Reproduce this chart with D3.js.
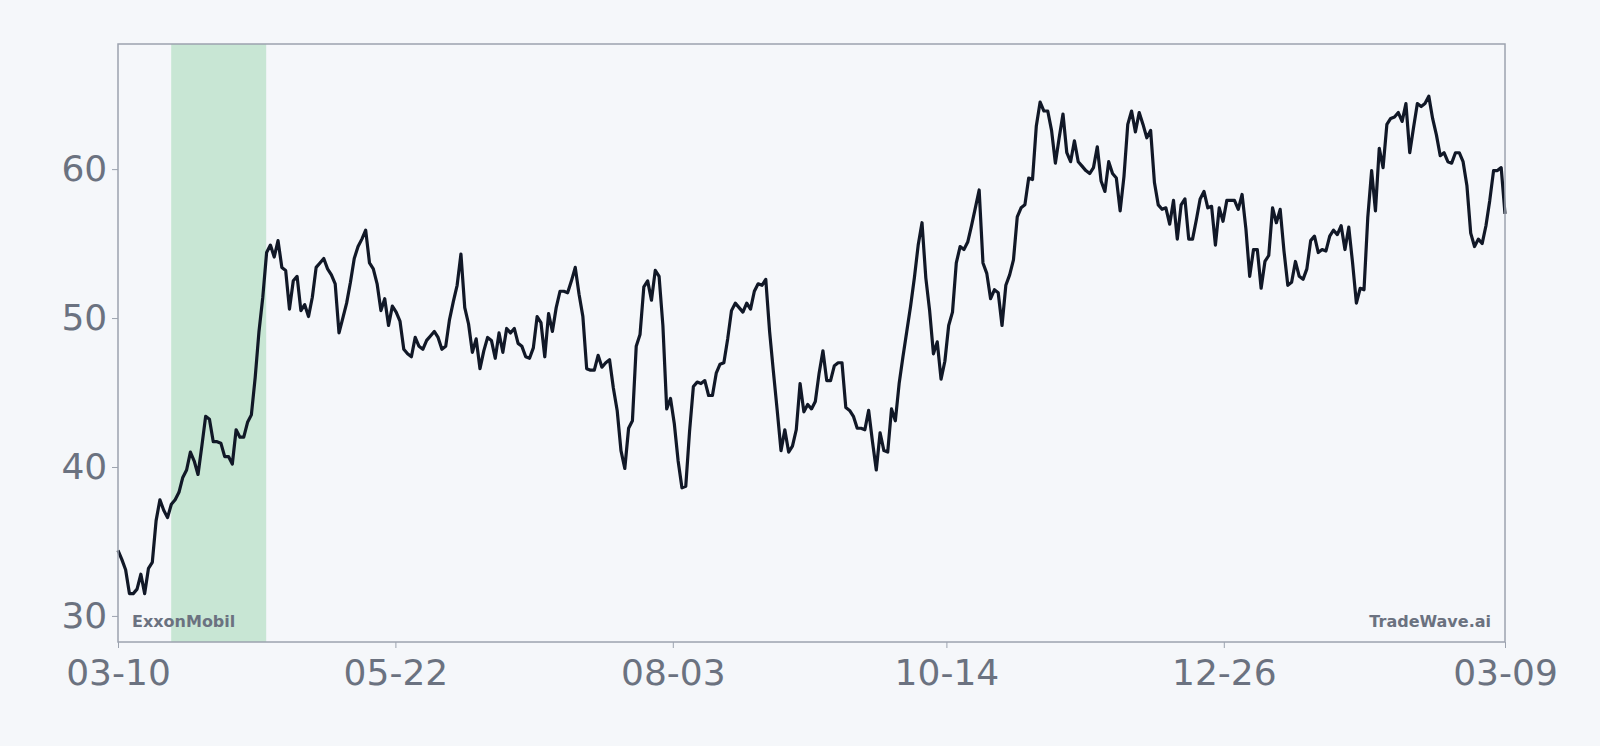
<!DOCTYPE html>
<html>
<head>
<meta charset="utf-8">
<script src="https://cdn.jsdelivr.net/npm/d3@7"></script>
<style>
  body { margin: 0; background: #f5f7fa; }
  svg { display: block; }
  svg text { font-family: "DejaVu Sans", sans-serif; }
</style>
</head>
<body>
<svg id="chart" width="1600" height="746"></svg>
<script>
// Closing prices, evenly sampled across the year
var prices = [34.4,33.8,33.1,31.5,31.5,31.8,32.8,31.5,33.2,33.6,36.4,37.8,37.1,36.6,37.5,37.8,38.3,39.3,39.8,41.0,
  40.4,39.5,41.4,43.4,43.2,41.7,41.7,41.6,40.7,40.7,40.2,42.5,42.0,42.0,43.0,43.5,46.0,49.1,51.4,54.4,
  54.9,54.1,55.2,53.4,53.2,50.6,52.5,52.8,50.5,50.9,50.1,51.4,53.4,53.7,54.0,53.3,52.9,52.3,49.0,50.0,
  51.0,52.4,54.0,54.8,55.3,55.9,53.7,53.3,52.3,50.5,51.3,49.5,50.8,50.4,49.8,47.9,47.6,47.4,48.7,48.1,
  47.9,48.5,48.8,49.1,48.7,47.9,48.1,49.9,51.1,52.2,54.3,50.7,49.6,47.7,48.6,46.6,47.8,48.7,48.5,47.3,
  49.0,47.7,49.3,49.0,49.3,48.3,48.1,47.4,47.3,48.0,50.1,49.7,47.4,50.3,49.1,50.7,51.8,51.8,51.7,52.5,
  53.4,51.6,50.1,46.6,46.5,46.5,47.5,46.7,47.0,47.2,45.3,43.8,41.1,39.9,42.6,43.1,48.1,48.9,52.1,52.5,
  51.2,53.2,52.8,49.5,43.9,44.6,42.9,40.4,38.6,38.7,42.4,45.4,45.7,45.6,45.8,44.8,44.8,46.3,46.9,47.0,
  48.6,50.5,51.0,50.7,50.4,51.0,50.6,51.8,52.3,52.2,52.6,49.1,46.4,43.8,41.1,42.5,41.0,41.4,42.5,45.6,
  43.7,44.2,43.9,44.4,46.3,47.8,45.8,45.8,46.8,47.0,47.0,44.0,43.8,43.4,42.6,42.6,42.5,43.8,41.7,39.8,
  42.3,41.1,41.0,43.9,43.1,45.6,47.4,49.1,50.8,52.7,54.9,56.4,52.7,50.5,47.6,48.4,45.9,47.1,49.5,50.4,
  53.7,54.8,54.6,55.1,56.2,57.4,58.6,53.7,53.0,51.3,51.9,51.7,49.5,52.2,52.9,53.9,56.8,57.4,57.6,59.4,
  59.3,62.9,64.5,63.9,63.9,62.6,60.4,62.1,63.7,61.1,60.5,61.9,60.5,60.2,59.9,59.7,60.1,61.5,59.2,58.5,
  60.5,59.7,59.4,57.2,59.5,63.0,63.9,62.5,63.8,63.0,62.1,62.6,59.1,57.6,57.3,57.4,56.3,57.9,55.3,57.6,
  58.0,55.3,55.3,56.6,58.0,58.5,57.4,57.5,54.9,57.4,56.5,57.9,57.9,57.9,57.3,58.3,56.0,52.8,54.6,54.6,
  52.0,53.8,54.2,57.4,56.4,57.3,54.5,52.2,52.4,53.8,52.8,52.6,53.3,55.2,55.5,54.4,54.6,54.5,55.5,55.9,
  55.6,56.2,54.6,56.1,53.7,51.0,52.0,51.9,56.8,59.9,57.2,61.4,60.1,63.0,63.4,63.5,63.8,63.2,64.4,61.1,
  62.8,64.4,64.2,64.4,64.9,63.4,62.3,60.9,61.1,60.5,60.4,61.1,61.1,60.5,58.9,55.7,54.8,55.3,55.0,56.2,
  57.9,59.9,59.9,60.1,57.0];
var startDate = new Date(2023, 2, 10);
var endDate = new Date(2024, 2, 9);
var tickDates = [new Date(2023, 2, 10), new Date(2023, 4, 22), new Date(2023, 7, 3),
  new Date(2023, 9, 14), new Date(2023, 11, 26), new Date(2024, 2, 9)];
var yTicks = [30, 40, 50, 60];
var highlight = [new Date(2023, 2, 24), new Date(2023, 3, 18)];
var tickerLabel = 'ExxonMobil';
var brandLabel = 'TradeWave.ai';

var margin = { top: 44, right: 95, bottom: 104, left: 118 };
var svg = d3.select('#chart');
var width = 1600 - margin.left - margin.right,
    height = 746 - margin.top - margin.bottom;
var g = svg.append('g').attr('transform', 'translate(' + margin.left + ',' + margin.top + ')');

var span = endDate - startDate;
var data = prices.map(function (p, i) {
  return { date: new Date(+startDate + span * i / (prices.length - 1)), value: p };
});

var x = d3.scaleTime().domain([startDate, endDate]).range([0, width]);
var y = d3.scaleLinear().domain([28.25, 68.4]).range([height, 0]);

g.append('rect')
  .attr('x', x(highlight[0])).attr('y', 0)
  .attr('width', x(highlight[1]) - x(highlight[0])).attr('height', height)
  .attr('fill', '#c8e6d4');

g.append('path')
  .datum(data)
  .attr('fill', 'none')
  .attr('stroke', '#111827')
  .attr('stroke-width', 3.2)
  .attr('stroke-linejoin', 'round')
  .attr('d', d3.line().x(function (d) { return x(d.date); }).y(function (d) { return y(d.value); }));

g.append('rect')
  .attr('width', width).attr('height', height)
  .attr('fill', 'none').attr('stroke', '#9ca3af').attr('stroke-width', 1.5);

var xAxis = g.append('g')
  .attr('transform', 'translate(0,' + height + ')')
  .call(d3.axisBottom(x).tickValues(tickDates).tickFormat(d3.timeFormat('%m-%d')).tickSize(6));
var yAxis = g.append('g')
  .call(d3.axisLeft(y).tickValues(yTicks).tickSize(6));

[xAxis, yAxis].forEach(function (a) {
  a.attr('font-family', null);
  a.select('.domain').remove();
  a.selectAll('line').attr('stroke', '#9ca3af');
  a.selectAll('text').attr('fill', '#6b7280').style('font-size', '36px');
});
xAxis.selectAll('text').attr('dy', '0.95em');
yAxis.selectAll('text').attr('dx', '-0.05em');

g.append('text').attr('x', 14).attr('y', height - 15)
  .attr('fill', '#6b7280').style('font-size', '16px').style('font-weight', 'bold')
  .text(tickerLabel);
g.append('text').attr('x', width - 14).attr('y', height - 15)
  .attr('text-anchor', 'end')
  .attr('fill', '#6b7280').style('font-size', '16px').style('font-weight', 'bold')
  .text(brandLabel);
</script>
</body>
</html>
